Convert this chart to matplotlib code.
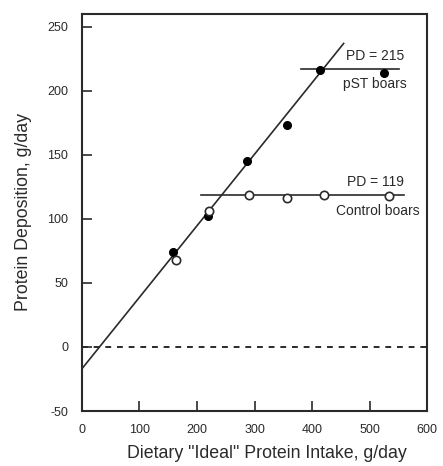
import numpy as np
import matplotlib
matplotlib.use('Agg')
import matplotlib.pyplot as plt

plt.rcParams['font.family'] = ['Liberation Sans', 'DejaVu Sans']
plt.rcParams['axes.unicode_minus'] = False

# pST boars (filled)
pst_x = [159, 219, 287, 357, 414, 526]
pst_y = [74, 102, 145, 173, 216, 214]
# control boars (open)
ctl_x = [164, 221, 290, 357, 420, 533]
ctl_y = [68, 106, 119, 116, 119, 118]

# fitted response
line_x = [0, 455]
line_y = [-17, 237]
pst_plateau = 217
pst_plateau_x = [380, 551]
ctl_plateau = 119
ctl_plateau_x = [207, 560]

xticks = [0, 100, 200, 300, 400, 500, 600]
yticks = [-50, 0, 50, 100, 150, 200, 250]

fig = plt.figure(figsize=(4.43, 4.66), dpi=100)
ax = fig.add_axes([0.185, 0.118, 0.779, 0.852])

c = '#2a2a2a'
ax.plot(line_x, line_y, color=c, lw=1.2)
ax.plot([0, 600], [0, 0], color=c, lw=1.4, ls=(0, (3, 3)))
ax.plot(pst_plateau_x, [pst_plateau] * 2, color=c, lw=1.2)
ax.plot(ctl_plateau_x, [ctl_plateau] * 2, color=c, lw=1.2)

ax.plot(pst_x, pst_y, 'o', color='black', ms=5.5, zorder=3)
ax.plot(ctl_x, ctl_y, 'o', mfc='white', mec=c, mew=1.2, ms=6, zorder=3)

ax.text(510, 227, 'PD = 215', ha='center', va='center', fontsize=10, color=c)
ax.text(510, 205, 'pST boars', ha='center', va='center', fontsize=10, color=c)
ax.text(510, 129, 'PD = 119', ha='center', va='center', fontsize=10, color=c)
ax.text(515, 106, 'Control boars', ha='center', va='center', fontsize=10, color=c)

ax.set_xlim(0, 600)
ax.set_ylim(-50, 260)
ax.set_xticks(xticks)
ax.set_yticks(yticks)
ax.tick_params(direction='in', length=7, width=1.2, colors=c, labelsize=9, pad=9)
ax.tick_params(axis='y', pad=10)
for s in ax.spines.values():
    s.set_linewidth(1.5)
    s.set_color(c)

ax.set_xlabel('Dietary "Ideal" Protein Intake, g/day', fontsize=12.8, color=c)
ax.set_ylabel('Protein Deposition, g/day', fontsize=12.8, color=c)
ax.xaxis.set_label_coords(0.535, -0.085)
ax.yaxis.set_label_coords(-0.145, 0.5)

fig.savefig('out.png', dpi=100)
